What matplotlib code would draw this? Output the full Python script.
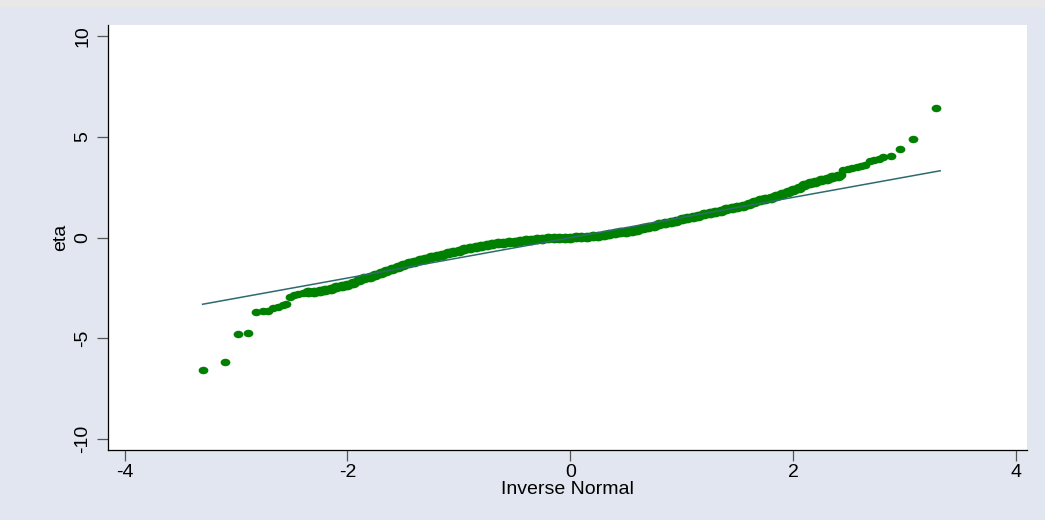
import matplotlib
matplotlib.use("Agg")
import matplotlib.pyplot as plt
from matplotlib.markers import MarkerStyle
from matplotlib.transforms import Affine2D

# qnorm of eta: inverse normal quantile vs sorted eta
tail_lo_x = [-3.30, -3.10, -2.98, -2.89, -2.82, -2.76, -2.71, -2.67, -2.62, -2.58, -2.55, -2.52, -2.48, -2.44, -2.40]
tail_lo_y = [-6.60, -6.20, -4.82, -4.75, -3.70, -3.68, -3.66, -3.52, -3.44, -3.38, -3.32, -2.96, -2.88, -2.80, -2.76]

body_x = [-2.35, -2.30, -2.25, -2.20, -2.15, -2.10, -2.05, -2.00, -1.95, -1.90,
          -1.85, -1.80, -1.75, -1.70, -1.65, -1.60, -1.55, -1.50, -1.45, -1.40,
          -1.35, -1.30, -1.25, -1.20, -1.15, -1.10, -1.05, -1.00, -0.95, -0.90,
          -0.85, -0.80, -0.75, -0.70, -0.65, -0.60, -0.55, -0.50, -0.45, -0.40,
          -0.35, -0.30, -0.25, -0.20, -0.15, -0.10, -0.05, 0.00, 0.05, 0.10,
          0.15, 0.20, 0.25, 0.30, 0.35, 0.40, 0.45, 0.50, 0.55, 0.60,
          0.65, 0.70, 0.75, 0.80, 0.85, 0.90, 0.95, 1.00, 1.05, 1.10,
          1.15, 1.20, 1.25, 1.30, 1.35, 1.40, 1.45, 1.50, 1.55, 1.60,
          1.65, 1.70, 1.75, 1.80, 1.85, 1.90, 1.95, 2.00, 2.05, 2.10,
          2.15, 2.20, 2.25, 2.30, 2.35, 2.40]
body_y = [-2.73, -2.70, -2.67, -2.63, -2.56, -2.48, -2.41, -2.34, -2.25, -2.12,
          -2.02, -1.95, -1.88, -1.75, -1.65, -1.56, -1.47, -1.38, -1.29, -1.20,
          -1.13, -1.06, -0.99, -0.92, -0.85, -0.78, -0.72, -0.65, -0.59, -0.53,
          -0.47, -0.42, -0.37, -0.33, -0.29, -0.26, -0.23, -0.20, -0.17, -0.14,
          -0.11, -0.08, -0.06, -0.04, -0.02, -0.01, 0.00, 0.00, 0.01, 0.02,
          0.04, 0.06, 0.09, 0.13, 0.17, 0.21, 0.25, 0.29, 0.34, 0.39,
          0.45, 0.51, 0.58, 0.65, 0.72, 0.78, 0.84, 0.90, 0.96, 1.03,
          1.09, 1.15, 1.21, 1.28, 1.34, 1.40, 1.46, 1.52, 1.59, 1.67,
          1.76, 1.85, 1.91, 1.97, 2.07, 2.17, 2.27, 2.36, 2.47, 2.59,
          2.70, 2.77, 2.84, 2.91, 3.00, 3.08]

tail_hi_x = [2.43, 2.45, 2.49, 2.53, 2.57, 2.61, 2.65, 2.69, 2.73, 2.77, 2.81, 2.88, 2.96, 3.08, 3.28]
tail_hi_y = [3.13, 3.36, 3.40, 3.46, 3.52, 3.58, 3.62, 3.80, 3.86, 3.92, 4.02, 4.07, 4.42, 4.89, 6.43]

# reference line (mean + sd * z)
line_x = [-3.30, 3.32]
line_y = [-3.32, 3.32]

plt.rcParams['font.family'] = ['Liberation Sans', 'DejaVu Sans']

fig = plt.figure(figsize=(10.45, 5.2), dpi=100)
fig.patch.set_facecolor('#E1E6F0')
# light strip along the top edge
fig.add_artist(plt.Rectangle((0, 0.987), 1, 0.013, transform=fig.transFigure, color='#E8E8E8', lw=0))

ax = fig.add_axes([0.1033, 0.1346, 0.8795, 0.8173])
ax.set_facecolor('white')

green = '#008000'
dot = MarkerStyle('o', transform=Affine2D().scale(1.3, 1.0))
# dense middle of the distribution: points overlap into a thick band
ax.plot(body_x, body_y, linestyle='none', marker=dot, markersize=7.0, color=green, markeredgewidth=0)
ax.plot(tail_lo_x + tail_hi_x, tail_lo_y + tail_hi_y, linestyle='none', marker=dot,
        markersize=5.4, color=green, markeredgewidth=0)
ax.plot(line_x, line_y, color='#2E6B6E', linewidth=1.1)

ax.set_xlim(-4.15, 4.10)
ax.set_ylim(-10.57, 10.57)
ax.set_xticks([-4, -2, 0, 2, 4])
ax.set_yticks([-10, -5, 0, 5, 10])
ax.set_yticklabels(['-10', '-5', '0', '5', '10'], rotation=90, va='center')
ax.set_xticklabels(['-4', '-2', '0', '2', '4'])

for s in ['top', 'right']:
    ax.spines[s].set_visible(False)
for s in ['left', 'bottom']:
    ax.spines[s].set_color('black')
    ax.spines[s].set_linewidth(0.9)

ax.tick_params(axis='both', direction='out', length=8, width=0.9, color='#555555', labelsize=14, pad=2)
ax.tick_params(axis='y', pad=4)

ax.set_xlabel('Inverse Normal', fontsize=14, labelpad=0)
ax.set_ylabel('eta', fontsize=14, labelpad=4)

fig.savefig('out.png', dpi=100, facecolor=fig.get_facecolor())
